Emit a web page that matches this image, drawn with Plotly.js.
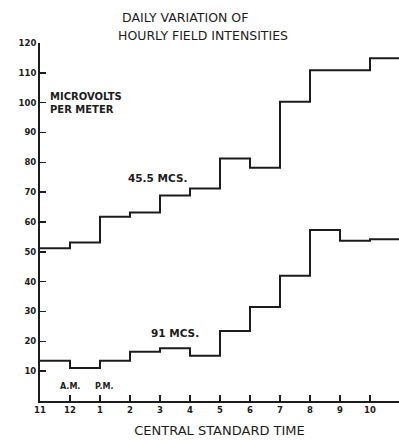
<!DOCTYPE html>
<html>
<head>
<meta charset="utf-8">
<script src="https://cdn.plot.ly/plotly-3.0.1.min.js"></script>
<style>html,body{margin:0;padding:0;background:#fff;}#chart{width:399px;height:441px;}</style>
</head>
<body>
<div id="chart"></div>
<script>
// Hour positions (0 = 11 A.M., 1 = 12 noon, ... 12 = 11 P.M.)
const hourIndex = [0,1,2,3,4,5,6,7,8,9,10,11];
const tickLabels = ["11","12","1","2","3","4","5","6","7","8","9","10","11"];
const mcs45 = [51.2,53.1,61.8,63.2,68.9,71.2,81.3,78.2,100.3,110.9,110.9,114.9];
const mcs91 = [13.5,11.1,13.5,16.5,17.7,15.2,23.5,31.5,42.0,57.3,53.7,54.2];
const yTicks = [10,20,30,40,50,60,70,80,90,100,110,120];

function stepX(xs){ return xs.concat([xs[xs.length-1]+1]); }
function stepY(ys){ return ys.concat([ys[ys.length-1]]); }

const font = "DejaVu Sans, Verdana, sans-serif";
const ink = "#1c1c1c";

const traces = [
  {x: stepX(hourIndex), y: stepY(mcs45), mode:"lines", line:{shape:"hv", color:ink, width:2}, hoverinfo:"skip"},
  {x: stepX(hourIndex), y: stepY(mcs91), mode:"lines", line:{shape:"hv", color:ink, width:2}, hoverinfo:"skip"}
];

const layout = {
  width:399, height:441,
  margin:{l:40, r:0, t:43, b:40},
  paper_bgcolor:"#fff", plot_bgcolor:"#fff",
  showlegend:false,
  font:{family:font, color:ink},
  xaxis:{
    range:[0, 359/30], showgrid:false, zeroline:false,
    showline:true, linecolor:ink, linewidth:2,
    ticks:"inside", ticklen:6, tickwidth:1.5, tickcolor:ink,
    tickvals:[0,1,2,3,4,5,6,7,8,9,10,11,12], ticktext:tickLabels,
    tickfont:{size:8.5, family:font, color:ink, weight:"bold"},
    title:{text:"CENTRAL STANDARD TIME", font:{size:13, family:font, color:ink}, standoff:12}
  },
  yaxis:{
    range:[0,120], showgrid:false, zeroline:false,
    showline:true, linecolor:ink, linewidth:2,
    ticks:"inside", ticklen:6, tickwidth:1.5, tickcolor:ink,
    tickvals:yTicks, ticktext:yTicks.map(String),
    tickfont:{size:8.5, family:font, color:ink, weight:"bold"}
  },
  annotations:[
    {text:"DAILY VARIATION OF", xref:"paper", yref:"paper", x:(185-40)/359, y:(441-40-17)/358, xanchor:"center", yanchor:"middle", showarrow:false, font:{size:12.5, family:font, color:ink}},
    {text:"HOURLY FIELD INTENSITIES", xref:"paper", yref:"paper", x:(203-40)/359, y:(441-40-35)/358, xanchor:"center", yanchor:"middle", showarrow:false, font:{size:12.5, family:font, color:ink}},
    {text:"MICROVOLTS<br>PER METER", xref:"paper", yref:"paper", x:(48-40)/359, y:(441-40-103)/358, xanchor:"left", yanchor:"middle", align:"left", showarrow:false, font:{size:10, family:font, color:ink, weight:"bold"}},
    {text:"45.5 MCS.", xref:"paper", yref:"paper", x:(157-40)/359, y:(441-40-178)/358, xanchor:"center", yanchor:"middle", showarrow:false, font:{size:10.5, family:font, color:ink, weight:"bold"}},
    {text:"91 MCS.", xref:"paper", yref:"paper", x:(175-40)/359, y:(441-40-333)/358, xanchor:"center", yanchor:"middle", showarrow:false, font:{size:10.5, family:font, color:ink, weight:"bold"}},
    {text:"A.M.", xref:"paper", yref:"paper", x:(70-40)/359, y:(441-40-386)/358, xanchor:"center", yanchor:"middle", showarrow:false, font:{size:8, family:font, color:ink, weight:"bold"}},
    {text:"P.M.", xref:"paper", yref:"paper", x:(104-40)/359, y:(441-40-386)/358, xanchor:"center", yanchor:"middle", showarrow:false, font:{size:8, family:font, color:ink, weight:"bold"}}
  ]
};

Plotly.newPlot("chart", traces, layout, {staticPlot:true, displayModeBar:false});
</script>
</body>
</html>
